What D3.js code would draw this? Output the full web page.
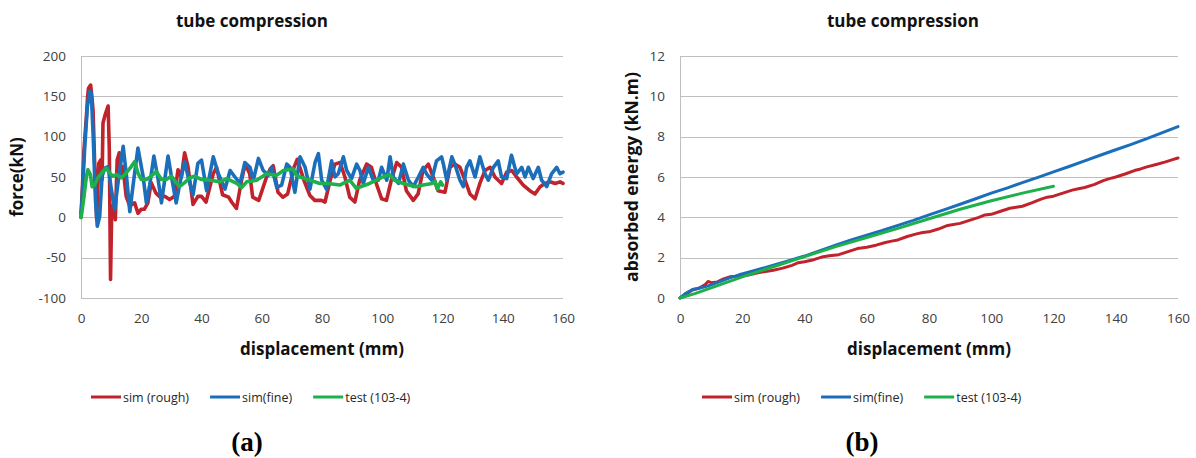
<!DOCTYPE html>
<html><head><meta charset="utf-8">
<script src="https://cdn.jsdelivr.net/npm/d3@7"></script>
<style>body{margin:0;background:#fff}svg{display:block}</style>
</head><body>
<svg id="c" width="1196" height="458"></svg>
<script>
// ---------- data ----------
const seriesNames = ["sim (rough)", "sim(fine)", "test (103-4)"];
const seriesColors = ["#C0232C", "#1B6FBA", "#1DB04C"];
const xTicks = [0, 20, 40, 60, 80, 100, 120, 140, 160];
const forceTicks = [-100, -50, 0, 50, 100, 150, 200];
const energyTicks = [0, 2, 4, 6, 8, 10, 12];

// force (kN) vs displacement (mm)
const forceRough = [[0,0],[0.1,9],[0.5,40],[1,84],[1.5,110],[1.8,125],[2.2,150],[2.5,160],[3.2,164],[3.6,150],[4,133],[4.5,71],[5.2,-3],[5.9,67],[6.5,71],[7,47],[7.3,117],[8,127],[9,138],[9.4,84],[9.8,-77],[10.2,10],[11,18],[11.4,-3],[12,71],[12.7,80],[13.4,51],[13.9,63],[15,26],[16.2,14],[17.8,18],[18.9,5],[20,10],[21,10],[22.2,18],[23.3,43],[24.9,30],[26,26],[27.8,26],[29.4,22],[31,26],[32.2,59],[33.3,50],[34.4,80],[35.5,63],[37.2,16],[38.8,26],[40,26],[41.5,19],[43.9,54],[45,62],[47,28],[49,25],[50,19],[51.6,11],[53.3,46],[54.5,66],[56,54],[57,25],[59,21],[61.6,50],[62.8,60],[63.8,64],[65.4,31],[67,25],[68.6,29],[70.7,62],[71.8,72],[74,46],[76,27],[77.6,21],[79.8,21],[81,19],[82.7,46],[84.3,66],[86,68],[87.6,50],[89.2,25],[90.9,19],[92.5,46],[94.8,66],[96.4,62],[98,42],[99.8,23],[101.4,21],[103,46],[104.8,68],[106.4,62],[108,33],[110.3,21],[111.9,29],[113.5,58],[115.3,66],[116.9,50],[118.5,33],[120.8,31],[122.5,62],[124.1,66],[125.8,62],[127.5,46],[129.1,29],[130.8,23],[132.4,42],[134.1,58],[135.8,62],[137.4,50],[139.6,42],[141.3,56],[143,58],[144.6,50],[146.8,40],[149,33],[150.7,29],[152.4,38],[154,42],[155.7,44],[157.4,42],[159,44],[160,42]];
const forceFine = [[0,5],[0.3,18],[1.2,84],[2.1,137],[2.9,156],[3.4,154],[4,105],[4.8,22],[5.4,-11],[6.2,1],[7,51],[7.9,61],[9,63],[10.1,34],[11.2,10],[12.3,43],[14,88],[15.1,51],[16.2,7],[17.3,40],[18.9,86],[20.6,51],[21.7,18],[22.8,40],[24.2,76],[25.6,47],[26.7,18],[27.8,47],[28.9,76],[30,51],[31.6,18],[32.7,40],[34.4,69],[35.5,51],[37.2,28],[38.8,67],[40,71],[41.7,33],[43.9,75],[45.6,54],[47.8,35],[49.5,58],[51.1,50],[52.8,42],[54.4,68],[56.1,62],[57.2,46],[58.9,73],[60.5,58],[62.2,52],[63.3,62],[65,37],[66.6,40],[68.3,66],[69.4,62],[71,31],[72.7,75],[74.4,62],[76,35],[77.7,68],[78.8,79],[79.9,46],[81.5,35],[83.2,70],[84.3,50],[85.4,54],[87.1,75],[88.2,58],[89.8,48],[91.5,66],[92.6,58],[93.7,42],[95.4,62],[97,46],[98.7,46],[99.8,62],[101.5,46],[102.6,75],[103.7,50],[105.4,42],[107,66],[108.7,46],[110.3,38],[112,50],[113.6,62],[114.7,54],[116.4,46],[118,70],[119.7,75],[120.3,66],[121.4,46],[123.1,75],[124.1,66],[125.8,46],[126.9,38],[128,62],[129.1,70],[130.8,50],[132.4,75],[134.1,54],[135.2,46],[136.9,62],[138.5,70],[139.6,50],[141.3,48],[142.9,77],[144.6,54],[146.3,62],[147.4,50],[148.5,62],[150.1,48],[151.8,62],[152.9,46],[154.6,38],[156.2,54],[157.9,62],[159,54],[160,56]];
const forceTest = [[0,0],[0.1,1],[1,26],[1.8,51],[2.3,59],[3.1,53],[3.7,38],[4.5,40],[5.6,49],[7.3,57],[8.4,61],[9.5,55],[10.6,51],[11.7,53],[13.4,49],[15,55],[16.7,63],[17.8,69],[18.9,55],[20,47],[21.7,47],[23.3,51],[25,57],[26.7,47],[28.3,47],[30,51],[31.6,43],[32.7,38],[34.4,43],[36,49],[37.7,51],[39.9,47],[42.8,46],[46.1,44],[48.4,48],[51.7,42],[53.3,37],[55,44],[58.3,46],[61.6,54],[64.9,52],[67.2,58],[70.4,60],[71.5,52],[72.7,50],[76,46],[79.3,42],[82,42],[85.9,40],[89.2,46],[91.4,36],[95.8,42],[100.2,50],[102.4,53],[104.1,46],[107,42],[111.1,38],[113.5,40],[116.6,42],[117.5,45],[118.3,35],[119.4,44],[120,40]];

// absorbed energy (kN.m) vs displacement (mm)
const energyRough = [[0,0],[2,0.2],[4,0.4],[6,0.48],[8,0.65],[9,0.82],[10,0.76],[12,0.8],[14,0.95],[16,1.05],[18,1.08],[20,1.13],[22,1.14],[25,1.25],[28,1.33],[30,1.38],[33,1.48],[36,1.62],[38,1.75],[40,1.8],[43,1.9],[46,2.05],[48,2.1],[51,2.15],[54,2.3],[57,2.45],[60,2.52],[63,2.62],[66,2.75],[68,2.82],[70,2.88],[73,3.05],[76,3.18],[78,3.25],[80,3.28],[83,3.42],[86,3.6],[90,3.7],[93,3.85],[96,4.0],[98,4.12],[100,4.15],[103,4.3],[106,4.45],[108,4.5],[110,4.55],[113,4.72],[116,4.9],[118,5.0],[120,5.05],[123,5.2],[126,5.35],[128,5.42],[130,5.48],[133,5.62],[136,5.82],[138,5.92],[140,6.0],[143,6.15],[146,6.32],[148,6.4],[150,6.5],[153,6.62],[156,6.75],[158,6.85],[160,6.94]];
const energyFine = [[0,0],[2,0.25],[4,0.42],[6,0.48],[8,0.55],[10,0.65],[13,0.82],[16,1.0],[19,1.15],[22,1.28],[26,1.45],[30,1.63],[35,1.85],[40,2.08],[45,2.35],[50,2.62],[55,2.88],[60,3.12],[65,3.35],[70,3.6],[75,3.85],[80,4.12],[85,4.38],[90,4.65],[95,4.92],[100,5.2],[105,5.45],[110,5.72],[115,5.98],[120,6.25],[125,6.52],[130,6.8],[135,7.08],[140,7.35],[145,7.62],[150,7.9],[155,8.2],[160,8.5]];
const energyTest = [[0,0],[5,0.23],[10,0.5],[20,1.05],[30,1.55],[40,2.05],[50,2.55],[60,3.0],[70,3.45],[80,3.93],[90,4.4],[100,4.82],[110,5.2],[120,5.54]];

const chartTitle = "tube compression";
const xTitle = "displacement (mm)";

// ---------- drawing ----------
const svg = d3.select("#c");
svg.append("rect").attr("width",1196).attr("height",458).attr("fill","#fff");
const FONT = "'Open Sans', sans-serif";

function panel(opt) {
  const x = d3.scaleLinear().domain([0,160]).range([opt.x0, opt.x1]);
  const y = d3.scaleLinear().domain(opt.yDomain).range([opt.yBottom, opt.yTop]);
  const g = svg.append("g");
  g.selectAll("line.grid").data(opt.yTicks).join("line")
    .attr("x1", opt.x0).attr("x2", opt.x1)
    .attr("y1", d => Math.round(y(d)) + 0.5).attr("y2", d => Math.round(y(d)) + 0.5)
    .attr("stroke", "#BFBFBF").attr("stroke-width", 1);
  g.append("line").attr("x1", opt.x0 + 0.5).attr("x2", opt.x0 + 0.5)
    .attr("y1", opt.yTop).attr("y2", opt.yBottom + 0.5)
    .attr("stroke", "#BFBFBF");
  const yAxis = d3.axisLeft(y).tickValues(opt.yTicks).tickFormat(d => String(d)).tickSize(0).tickPadding(15);
  const ya = g.append("g").attr("transform", `translate(${opt.x0},0)`).call(yAxis);
  ya.select(".domain").remove();
  ya.selectAll("text").attr("font-family", FONT).attr("font-size", 13.5).attr("fill", "#404040");
  const xAxis = d3.axisBottom(x).tickValues(xTicks).tickFormat(d => String(d)).tickSize(0).tickPadding(15);
  const xa = g.append("g").attr("transform", `translate(0,${opt.yBottom})`).call(xAxis);
  xa.select(".domain").remove();
  xa.selectAll("text").attr("font-family", FONT).attr("font-size", 13.5).attr("fill", "#404040");
  const line = d3.line().x(d => x(d[0])).y(d => y(d[1]));
  opt.series.forEach((s, i) => {
    g.append("path").datum(s).attr("d", line).attr("fill", "none")
      .attr("stroke", seriesColors[i]).attr("stroke-width", opt.lw)
      .attr("stroke-linejoin", "round").attr("stroke-linecap", "round");
  });
  const cx = (opt.x0 + opt.x1) / 2;
  g.append("text").attr("x", opt.titleX).attr("y", 27).attr("text-anchor", "middle")
    .attr("font-family", FONT).attr("font-weight", "bold").attr("font-size", 17)
    .attr("fill", "#111").text(chartTitle);
  g.append("text").attr("x", cx).attr("y", 355).attr("text-anchor", "middle")
    .attr("font-family", FONT).attr("font-weight", "bold").attr("font-size", 17)
    .attr("fill", "#111").text(xTitle);
  g.append("text").attr("transform", `translate(${opt.yLabelX},${(opt.yTop + opt.yBottom) / 2}) rotate(-90)`)
    .attr("text-anchor", "middle").attr("font-family", FONT).attr("font-weight", "bold")
    .attr("font-size", opt.yTitleSize).attr("fill", "#111").text(opt.yTitle);
  let lx = opt.legendX;
  seriesNames.forEach((n, i) => {
    g.append("line").attr("x1", lx).attr("x2", lx + 30).attr("y1", 397).attr("y2", 397)
      .attr("stroke", seriesColors[i]).attr("stroke-width", 3);
    const t = g.append("text").attr("x", lx + 32).attr("y", 401.5)
      .attr("font-family", FONT).attr("font-size", 12.5).attr("fill", "#262626").text(n);
    lx += 32 + t.node().getComputedTextLength() + 21;
  });
  g.append("text").attr("x", opt.labelX).attr("y", 451).attr("text-anchor", "middle")
    .attr("font-family", "'Liberation Serif', serif").attr("font-weight", "bold")
    .attr("font-size", 27).attr("fill", "#000").text(opt.label);
}

panel({x0:81, x1:563, yTop:56, yBottom:298, yDomain:[-100,200], yTicks:forceTicks,
  series:[forceRough, forceFine, forceTest], lw:3.6, yTitle:"force(kN)", yLabelX:23, yTitleSize:17,
  titleX:252, legendX:91, labelX:247, label:"(a)"});
panel({x0:680, x1:1178, yTop:56, yBottom:298, yDomain:[0,12], yTicks:energyTicks,
  series:[energyRough, energyFine, energyTest], lw:3, yTitle:"absorbed energy (kN.m)", yLabelX:638, yTitleSize:17.5,
  titleX:903, legendX:702, labelX:862, label:"(b)"});
</script>
</body></html>
